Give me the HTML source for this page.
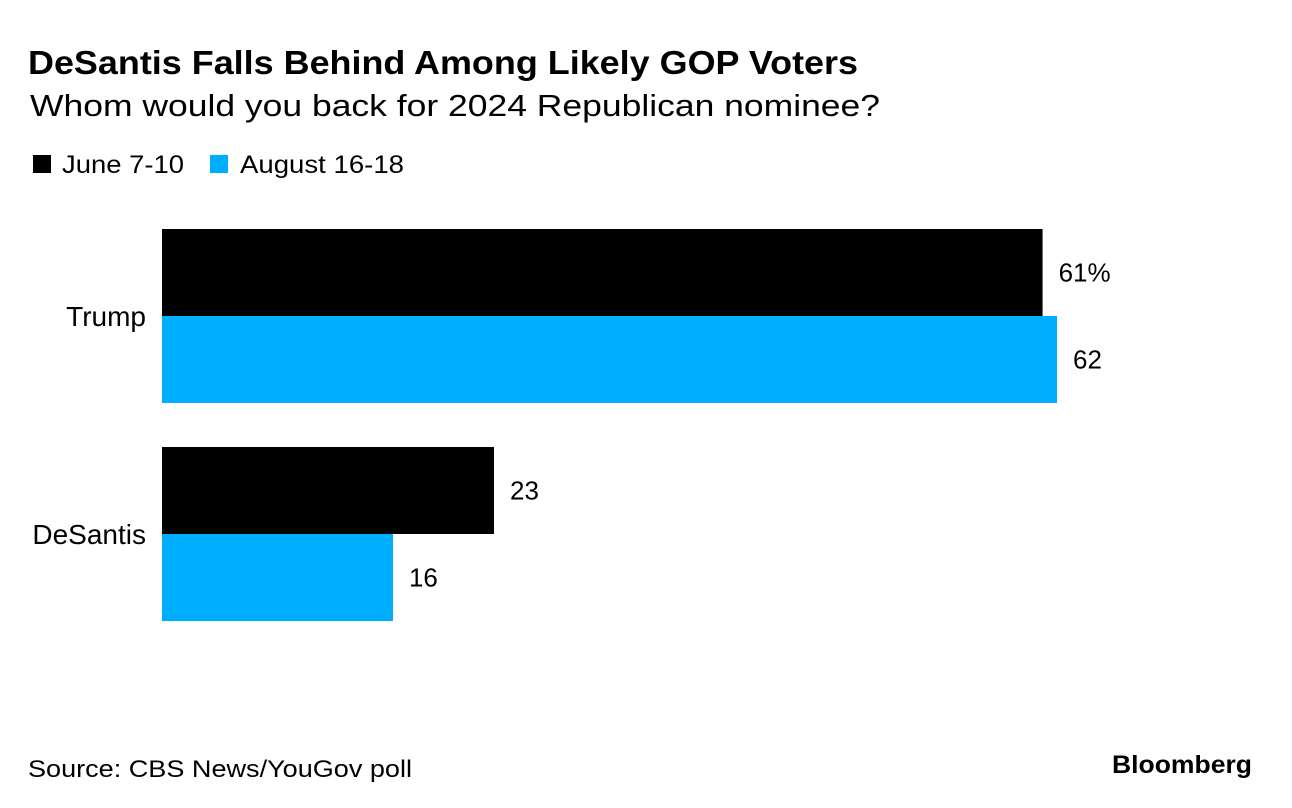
<!DOCTYPE html>
<html><head><meta charset="utf-8"><style>
html,body{margin:0;padding:0;background:#fff;}
svg{display:block;font-family:"Liberation Sans",Arial,sans-serif;}
</style></head><body>
<svg id="chart" width="1292" height="808" viewBox="0 0 1292 808">
<text x="28" y="74" font-size="33" font-weight="bold" textLength="830" lengthAdjust="spacingAndGlyphs" fill="#000">DeSantis Falls Behind Among Likely GOP Voters</text>
<text x="30" y="116" font-size="31" textLength="850" lengthAdjust="spacingAndGlyphs" fill="#000">Whom would you back for 2024 Republican nominee?</text>
<g>
<rect x="33" y="155" width="18" height="18" fill="#000"/>
<text x="62" y="173" font-size="25" textLength="122" lengthAdjust="spacingAndGlyphs">June 7-10</text>
<rect x="210" y="155" width="18" height="18" fill="#00aeff"/>
<text x="240" y="173" font-size="25" textLength="164" lengthAdjust="spacingAndGlyphs">August 16-18</text>
</g>
<g id="bars"></g>
<text x="28" y="777" font-size="24" textLength="384" lengthAdjust="spacingAndGlyphs">Source: CBS News/YouGov poll</text>
<text x="1252" y="773" font-size="25" font-weight="bold" text-anchor="end" textLength="140" lengthAdjust="spacingAndGlyphs">Bloomberg</text>
</svg>
<script>
const categories = ["Trump", "DeSantis"];
const juneValues = [61, 23];
const augustValues = [62, 16];
const juneLabels = ["61%", "23"];
const augustLabels = ["62", "16"];

const x0 = 162, pxPer = (1057 - 162) / 62;
const xScale = v => x0 + v * pxPer;
const groupTop = i => 229 + i * 218;
const barH = 87;
const g = document.getElementById('bars');
const NS = 'http://www.w3.org/2000/svg';
function mk(tag, attrs){const e=document.createElementNS(NS,tag);for(const k in attrs)e.setAttribute(k,attrs[k]);return e;}
categories.forEach((c, i) => {
  const top = groupTop(i);
  const lab = mk('text', {x:146, y:top+barH+10, 'font-size':28, 'text-anchor':'end'});
  lab.textContent = c;
  
  
  g.appendChild(lab);
  [[juneValues, juneLabels, '#000', 'bar-june'], [augustValues, augustLabels, '#00aeff', 'bar-august']].forEach((s, j) => {
    const y = top + j * barH;
    const r = mk('rect', {x:x0, y:y, width:xScale(s[0][i]) - x0, height:barH, fill:s[2]});
    
    
    g.appendChild(r);
    const t = mk('text', {x:xScale(s[0][i]) + 16, y:y + barH/2 + 9, 'font-size':26});
    t.textContent = s[1][i];
    
    
    g.appendChild(t);
  });
});
</script>
</body></html>
